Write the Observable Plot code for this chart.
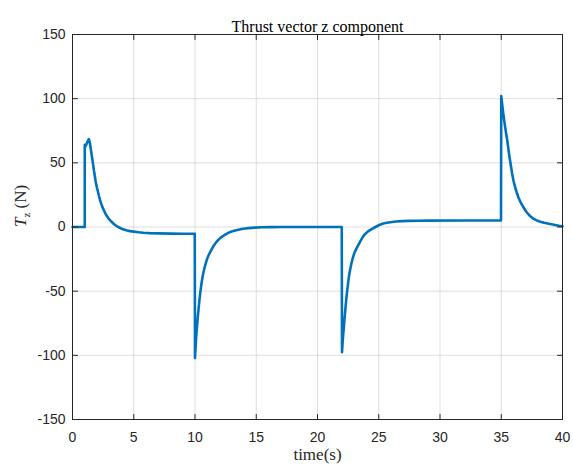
<!DOCTYPE html>
<html><head><meta charset="utf-8">
<script src="https://cdn.jsdelivr.net/npm/d3@7"></script>
<script src="https://cdn.jsdelivr.net/npm/@observablehq/plot@0.6"></script>
<style>html,body{margin:0;padding:0;background:#fff;}</style>
</head><body><div id="chart"></div>
<script>
const times = [0, 1.0, 1.0, 1.08, 1.2, 1.33, 1.4, 1.45, 1.52, 1.6, 1.68, 1.75, 1.82, 1.88, 1.94, 2.0, 2.08, 2.15, 2.25, 2.35, 2.45, 2.56, 2.68, 2.8, 2.95, 3.1, 3.25, 3.4, 3.55, 3.7, 3.85, 4.0, 4.2, 4.46, 4.7, 5.0, 5.4, 5.8, 6.3, 7, 8, 9, 9.98,
  10.0, 10.05, 10.1, 10.15, 10.22, 10.29, 10.35, 10.42, 10.49, 10.56, 10.63, 10.7, 10.76, 10.83, 10.9, 11.0, 11.12, 11.24, 11.37, 11.5, 11.64, 11.78, 11.94, 12.1, 12.28, 12.46, 12.65, 12.85, 13.05, 13.28, 13.55, 13.8, 14.1, 14.37, 14.9, 15.45, 16.2, 17, 19, 21.98,
  22.0, 22.05, 22.1, 22.15, 22.22, 22.29, 22.35, 22.42, 22.49, 22.56, 22.63, 22.7, 22.76, 22.83, 22.91, 23.0, 23.12, 23.24, 23.37, 23.5, 23.64, 23.78, 23.94, 24.1, 24.28, 24.46, 24.65, 24.85, 25.05, 25.3, 25.55, 25.8, 26.1, 26.4, 26.9, 27.45, 28.2, 29, 32, 34.98,
  35.0, 35.05, 35.1, 35.15, 35.2, 35.25, 35.3, 35.35, 35.42, 35.5, 35.56, 35.62, 35.7, 35.8, 35.89, 36.0, 36.08, 36.16, 36.28, 36.4, 36.55, 36.71, 36.85, 37.0, 37.25, 37.4, 37.6, 37.85, 38.07, 38.3, 38.5, 38.7, 38.88, 39.1, 39.4, 39.7, 40.0];
const thrustZ = [0, 0, 64, 63, 66, 68.5, 66.5, 63.5, 59, 54, 49, 44, 40, 36, 33, 30.5, 27.5, 24.5, 21, 18, 15.3, 13, 10.6, 8.5, 6.6, 5, 3.5, 2.2, 1.1, 0.2, -0.6, -1.3, -2, -2.7, -3.2, -3.6, -4.1, -4.5, -4.8, -5, -5.2, -5.3, -5.3,
  -102, -93, -85.5, -79, -71, -64, -58, -52, -46.8, -42, -38.2, -35, -32.3, -30, -27.5, -24.5, -21.8, -19.6, -17.2, -15, -13.1, -11.3, -9.7, -8.3, -7.1, -6, -4.9, -4, -3.3, -2.7, -2.1, -1.6, -1.2, -0.9, -0.5, -0.2, -0.1, 0, 0, 0,
  -97.5, -90, -83.5, -78, -70, -62.5, -56, -50, -44.3, -39, -35, -31.5, -28.6, -26, -23.2, -20.5, -18, -15.7, -13.3, -11, -8.7, -6.6, -5, -3.6, -2.4, -1.4, -0.4, 0.6, 1.6, 2.5, 3.1, 3.5, 3.9, 4.3, 4.6, 4.8, 4.9, 5, 5.1, 5.1,
  102, 97.5, 93.5, 89.5, 86, 82.5, 79, 76, 71.5, 67, 62.5, 58, 53, 47, 41.5, 36, 33, 30, 26.5, 23, 19.8, 17, 14.8, 12.5, 9.5, 8.2, 6.6, 5.4, 4.5, 3.8, 3.3, 2.9, 2.5, 2.1, 1.5, 1.0, 0.6];
const xTicks = [0, 5, 10, 15, 20, 25, 30, 35, 40];
const yTicks = [-150, -100, -50, 0, 50, 100, 150];
const titleText = "Thrust vector z component";
const xLabel = "time(s)";
const yLabelParts = ["T", "z", " (N)"];

const data = times.map((t, i) => ({t, v: thrustZ[i]}));
const axisColor = "#262626";
const serif = "'Liberation Serif', 'Times New Roman', serif";
const fmt = d => String(d);
const tickShape = {draw(context, l) { context.moveTo(0, 0); context.lineTo(0, -l); }};

const chart = Plot.plot({
  width: 573, height: 467,
  marginLeft: 72, marginRight: 11, marginTop: 34, marginBottom: 48,
  style: {fontFamily: "'Liberation Sans', Arial, sans-serif", fontSize: "14px", color: axisColor, background: "#fff", overflow: "visible"},
  x: {domain: [0, 40]},
  y: {domain: [-150, 150]},
  marks: [
    Plot.gridX(xTicks, {stroke: axisColor, strokeOpacity: 0.15}),
    Plot.gridY(yTicks, {stroke: axisColor, strokeOpacity: 0.15}),
    Plot.line(data, {x: "t", y: "v", stroke: "#0072BD", strokeWidth: 2.6, strokeLinejoin: "round"}),
    Plot.frame({stroke: axisColor}),
    Plot.axisX(xTicks, {anchor: "bottom", tickSize: 0, tickPadding: 13, tickFormat: fmt, label: null}),
    Plot.axisY(yTicks, {anchor: "left", tickSize: 0, tickPadding: 7, tickFormat: fmt, label: null}),
    // inward tick marks on all four sides
    Plot.vector(xTicks, {x: d => d, frameAnchor: "bottom", length: 5, rotate: 0, anchor: "start", shape: tickShape, stroke: axisColor, strokeWidth: 1}),
    Plot.vector(xTicks, {x: d => d, frameAnchor: "top", length: 5, rotate: 180, anchor: "start", shape: tickShape, stroke: axisColor, strokeWidth: 1}),
    Plot.vector(yTicks, {y: d => d, frameAnchor: "left", length: 5, rotate: 90, anchor: "start", shape: tickShape, stroke: axisColor, strokeWidth: 1}),
    Plot.vector(yTicks, {y: d => d, frameAnchor: "right", length: 5, rotate: -90, anchor: "start", shape: tickShape, stroke: axisColor, strokeWidth: 1}),
    Plot.text([titleText], {frameAnchor: "top", dy: -14, fontFamily: serif, fontSize: 16, fill: "#000"}),
    Plot.text([xLabel], {frameAnchor: "bottom", dy: 40, fontFamily: serif, fontSize: 17, fill: axisColor}),
    Plot.text([yLabelParts.join("")], {frameAnchor: "left", dx: -52, rotate: -90, fontFamily: serif, fontSize: 17, fill: axisColor})
  ]
});
document.getElementById("chart").appendChild(chart);

// rich y label: italic T with subscript z
const ns = "http://www.w3.org/2000/svg";
for (const yl of chart.querySelectorAll("text")) {
  if (yl.textContent === yLabelParts.join("")) {
    while (yl.firstChild) yl.removeChild(yl.firstChild);
    const t1 = document.createElementNS(ns, "tspan");
    t1.setAttribute("font-style", "italic");
    t1.textContent = yLabelParts[0];
    const t2 = document.createElementNS(ns, "tspan");
    t2.setAttribute("font-size", "11");
    t2.setAttribute("dy", "4");
    t2.textContent = yLabelParts[1];
    const t3 = document.createElementNS(ns, "tspan");
    t3.setAttribute("dy", "-4");
    t3.textContent = yLabelParts[2];
    yl.append(t1, t2, t3);
  }
}
</script>
</body></html>
